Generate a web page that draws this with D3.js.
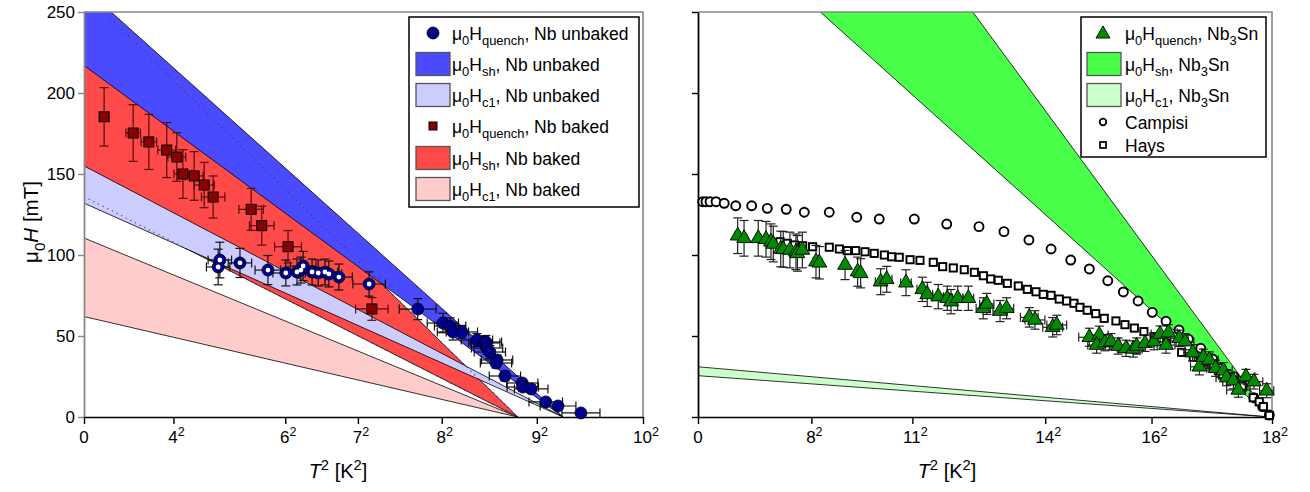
<!DOCTYPE html>
<html>
<head>
<meta charset="utf-8">
<script src="https://cdn.jsdelivr.net/npm/d3@7"></script>
<style>
  body { margin: 0; background: #fff; }
  svg { display: block; font-family: "Liberation Sans", Arial, Helvetica, sans-serif; }
</style>
</head>
<body>
<svg id="chart" width="1310" height="492"></svg>
<script>
// ---- data (T^2 in K^2, fields in mT) ----
const tickLeftT = [0, 4, 6, 7, 8, 9, 10];
const tickRightT = [0, 8, 11, 14, 16, 18];
const tickH = [0, 50, 100, 150, 200, 250];

// critical temperatures squared
const tc2NbUnbaked = 85.7;
const tc2NbBaked = 77.6;
const tc2Nb3Sn = 323;

// bands: field at T = 0, [low, high]
const hshUnbaked = [217, 265];
const hc1Unbaked = [132, 155];
const hshBaked = [136, 262];
const hc1Baked = [62, 110.5];
const hshNb3Sn = [318, 481];
const hc1Nb3Sn = [25.5, 31];

// Nb unbaked quench, low temperature set (drawn with a white centre)
const unbakedOpenT2 = [24.3, 24.0, 27.9, 32.9, 36.1, 38.1, 38.8, 39.2, 40.8, 41.9, 43.1, 43.8, 45.6, 51.0];
const unbakedOpenH = [96.9, 92.6, 95.1, 90.7, 88.9, 89.5, 90.7, 93.2, 89.5, 88.9, 89.5, 88.3, 86.4, 82.1];
const unbakedOpenT2Err = [2.1, 2.1, 2.1, 2.3, 2.3, 2.3, 2.3, 2.3, 2.3, 2.3, 2.3, 2.3, 2.4, 2.9];
const unbakedOpenHErr = [11, 11, 9, 9, 8, 8, 8, 9, 8, 8, 8, 8, 8, 7.5];

// Nb unbaked quench, high temperature set
const unbakedT2 = [59.7, 64.2, 65.5, 66.0, 67.6, 70.3, 71.6, 71.9, 72.1, 72.6, 73.9, 73.7, 75.3, 78.4, 78.5, 80.0, 82.6, 84.8, 88.9];
const unbakedH = [66.6, 58.0, 56.2, 52.5, 52.5, 47.5, 45.7, 46.3, 42.6, 40.1, 35.2, 33.3, 25.3, 21.0, 18.5, 17.3, 9.3, 6.8, 2.5];
const unbakedT2Err = [3.3, 2.8, 2.8, 2.8, 2.8, 2.8, 2.8, 2.8, 2.8, 2.8, 2.8, 2.8, 2.8, 2.8, 2.8, 3.0, 3.0, 3.2, 3.4];
const unbakedHErr = [6.5, 6, 5, 5, 4, 4, 4, 4, 4, 4, 3, 3, 3, 2.5, 2.5, 2.5, 2, 2, 2];

// Nb baked quench
const bakedT2 = [3.6, 8.8, 11.6, 14.8, 16.6, 17.7, 19.7, 21.5, 23.1, 29.9, 31.8, 36.5, 51.5];
const bakedH = [185.3, 175.3, 169.8, 164.8, 160.5, 150.0, 148.8, 143.2, 135.8, 128.2, 118.1, 105.1, 66.7];
const bakedT2Err = [0, 1.3, 1.4, 1.6, 1.6, 1.6, 1.6, 1.8, 2.1, 2.2, 2.2, 2.4, 2.9];
const bakedHErr = [18, 17.5, 17, 17, 15, 15, 15, 14, 13, 13, 12, 10, 7];

// Nb3Sn quench
const snT2 = [22.4, 26.0, 34.0, 38.4, 41.2, 42.5, 46.7, 48.1, 51.9, 55.3, 56.1, 58.9, 66.6, 68.5, 83.0, 90.1, 91.8,
  103.1, 106.5, 117.4, 126.6, 129.4, 135.6, 140.7, 142.8, 146.6, 152.6, 161.0, 163.0, 170.5, 174.2,
  187.0, 190.2, 200.2, 202.5, 220.9, 226.5, 225.0, 229.7, 233.1, 237.2, 241.6, 245.7, 247.6, 252.3, 257.4, 260.8,
  264.2, 265.5, 271.7, 274.9, 279.2, 283.0, 285.2, 288.6, 292.2, 296.5, 298.4, 302.2, 305.0, 309.3, 313.8, 321.0];
const snH = [111.9, 110.3, 110.3, 109.7, 108.2, 106.8, 103.7, 103.5, 103.1, 102.0, 101.0, 103.1, 95.9, 95.2, 93.8, 89.7, 88.7,
  83.5, 85.0, 82.9, 78.8, 75.7, 74.3, 73.3, 71.2, 73.3, 73.3, 67.1, 69.8, 65.4, 67.1,
  61.5, 59.9, 55.4, 56.8, 49.2, 50.6, 44.4, 45.9, 46.5, 43.8, 42.4, 42.0, 43.8, 45.5, 46.5, 51.2,
  44.4, 52.0, 48.6, 46.5, 39.7, 31.0, 36.9, 35.2, 30.1, 28.6, 24.3, 22.4, 16.7, 24.9, 21.8, 16.2];
const snT2Err = [1.5, 1.5, 1.5, 1.5, 1.5, 1.5, 1.5, 1.5, 1.5, 1.5, 1.5, 1.5, 1.5, 1.5, 1.5, 1.5, 1.5,
  3, 3, 3, 3, 3, 3, 3, 3, 3, 3, 4, 4, 4, 4,
  5, 5.6, 5.6, 5.6, 6, 5, 5, 5, 5, 5, 5, 5, 5, 5, 5, 5,
  5, 5, 5, 5, 5, 5, 5, 5, 5, 5, 6, 6, 6.6, 5, 5, 4];
const snHErr = [11, 11, 11, 11, 11, 11, 11, 11, 11, 11, 11, 11, 10, 10, 9, 9, 9,
  8, 8, 8, 7.5, 7.5, 7.5, 7.5, 7.5, 7.5, 7.5, 6.5, 6.5, 6.5, 6.5,
  6, 5.7, 6, 6, 5.6, 5.5, 5, 5, 5, 5, 5, 5, 5, 5, 5, 5,
  5, 5, 5, 5, 5, 5, 5, 5, 5, 5, 5, 5, 4.5, 4.5, 4.5, 4.3];

// Campisi
const campisiT2 = [2.65, 4.5, 6.8, 10.2, 14.8, 21.3, 30.3, 39.1, 49.8, 60.0, 74.1, 89.6, 102.3, 122.1, 140.4, 158.6, 172.7,
  186.8, 199.3, 210.4, 220.9, 231.3, 240.1, 248.4, 256.4, 264.2, 271.5, 276.8, 283.8, 290.5, 295.6, 302.5, 307.2,
  313.8, 318.7, 322.5];
const campisiH = [132.9, 132.9, 132.9, 132.9, 131.9, 130.4, 130.4, 128.8, 128.2, 126.4, 126.4, 123.3, 122.2, 122.2, 119.1, 117.5, 114.4,
  109.3, 103.7, 96.9, 91.4, 84.1, 77.2, 71.6, 64.6, 59.1, 53.7, 48.1, 42.4, 35.8, 30.1, 24.9, 17.7,
  11.9, 6.4, 1.2];

// Hays
const haysT2 = [46.3, 50.4, 54.4, 59.1, 64.7, 74.1, 79.8, 84.3, 89.0, 94.3, 99.5, 105.2, 109.3, 113.6, 119.7, 125.3, 132.8, 138.1,
  144.1, 150.3, 156.0, 161.1, 165.2, 169.5, 174.6, 180.8, 185.9, 190.8, 194.9, 199.3, 203.9, 208.1, 212.2, 215.6, 219.7,
  224.5, 229.3, 235.9, 241.0, 246.3, 251.7, 257.4, 264.6, 273.0, 279.6, 285.6, 290.9, 296.1, 302.2, 307.2, 313.4, 316.8,
  319.1, 322.5];
const haysH = [108.2, 107.2, 106.2, 105.7, 105.1, 104.8, 103.7, 102.7, 102.7, 102.0, 101.0, 100.0, 98.9, 98.6, 97.1, 96.7, 95.5, 92.8,
  92.0, 90.9, 89.3, 87.2, 85.2, 84.4, 82.5, 80.9, 78.8, 77.3, 75.7, 75.1, 72.8, 71.6, 70.2, 67.7, 65.9,
  63.8, 60.9, 59.3, 57.0, 54.9, 52.7, 49.6, 45.5, 39.9, 36.9, 34.1, 31.5, 25.9, 22.8, 19.1, 11.9, 9.4,
  6.4, 1.0];

// ---- colours ----
const cBlue = "#4a4aff", cLightBlue = "#ccccff", cRed = "#ff4a4a", cPink = "#ffcccc";
const cGreen = "#4aff4a", cLightGreen = "#ccffcc";
const cNavy = "#00008f", cMaroon = "#8b0000", cDarkGreen = "#008c00";

const svg = d3.select("#chart");
const FONT = 17;

const y = d3.scaleLinear().domain([0, 250]).range([417, 12]);
const xL = d3.scaleLinear().domain([0, 100]).range([84, 643]);
const xR = d3.scaleLinear().domain([0, 324]).range([698, 1272]);

// text with sub/superscripts: parts = [[string, mode]]
function rich(g, x, yy, parts, size, anchor) {
  const t = g.append("text").attr("x", x).attr("y", yy)
    .attr("font-size", size).attr("text-anchor", anchor || "start");
  let shift = 0;
  parts.forEach(([s, m]) => {
    const target = m === "sub" ? size * 0.32 : m === "sup" ? -size * 0.42 : 0;
    const sp = t.append("tspan").attr("dy", target - shift).text(s);
    shift = target;
    if (m === "sub" || m === "sup") sp.attr("font-size", size * 0.74);
    if (m === "it") sp.attr("font-style", "italic");
  });
  return t;
}

function band(g, x, h0, tc2, fill) {
  const pts = [[0, h0[1]], [tc2, 0], [0, h0[0]]];
  g.append("path")
    .attr("d", d3.line().x(d => x(d[0])).y(d => y(d[1]))(pts) + "Z")
    .attr("fill", fill).attr("stroke", "#000").attr("stroke-width", 0.8);
}

function dotted(g, x, h0, tc2) {
  h0.forEach(h => {
    g.append("line")
      .attr("x1", x(0)).attr("y1", y(h)).attr("x2", x(tc2)).attr("y2", y(0))
      .attr("stroke", "#3a3a6a").attr("stroke-width", 1.1).attr("stroke-dasharray", "1.2 4");
  });
}

function errBars(g, x, xs, ys, xe, ye, color) {
  const cap = 4.5;
  const eg = g.append("g").attr("stroke", color).attr("stroke-width", 1.2).attr("fill", "none");
  xs.forEach((t, i) => {
    const cx = x(t), cy = y(ys[i]);
    if (ye[i] > 0) {
      const a = y(ys[i] + ye[i]), b = y(ys[i] - ye[i]);
      eg.append("line").attr("x1", cx).attr("x2", cx).attr("y1", a).attr("y2", b);
      eg.append("line").attr("x1", cx - cap).attr("x2", cx + cap).attr("y1", a).attr("y2", a);
      eg.append("line").attr("x1", cx - cap).attr("x2", cx + cap).attr("y1", b).attr("y2", b);
    }
    if (xe[i] > 0) {
      const a = x(t - xe[i]), b = x(t + xe[i]);
      eg.append("line").attr("x1", a).attr("x2", b).attr("y1", cy).attr("y2", cy);
      eg.append("line").attr("x1", a).attr("x2", a).attr("y1", cy - cap).attr("y2", cy + cap);
      eg.append("line").attr("x1", b).attr("x2", b).attr("y1", cy - cap).attr("y2", cy + cap);
    }
  });
}

function clip(id, x) {
  svg.append("clipPath").attr("id", id).append("rect")
    .attr("x", x.range()[0]).attr("y", y(250))
    .attr("width", x.range()[1] - x.range()[0]).attr("height", y(0) - y(250));
}

function axes(x, ticksT, frameColor, leftColor, showY) {
  const g = svg.append("g");
  // frame: top and right
  g.append("path")
    .attr("d", `M${x.range()[0]},${y(250)}H${x.range()[1]}V${y(0)}`)
    .attr("fill", "none").attr("stroke", frameColor).attr("stroke-width", 1.6);
  // y axis
  const ya = g.append("g").attr("transform", `translate(${x.range()[0]},0)`)
    .call(d3.axisLeft(y).tickValues(tickH).tickSize(6).tickSizeOuter(0).tickFormat(""));
  ya.select(".domain").attr("stroke", leftColor).attr("stroke-width", 1.8);
  ya.selectAll(".tick line").attr("stroke", leftColor).attr("stroke-width", 1.4);
  if (showY) {
    tickH.forEach(h => {
      g.append("text").attr("x", x.range()[0] - 9).attr("y", y(h) + 6)
        .attr("text-anchor", "end").attr("font-size", FONT).text(h);
    });
  }
  // x axis
  const xa = g.append("g").attr("transform", `translate(0,${y(0)})`)
    .call(d3.axisBottom(x).tickValues(ticksT.map(t => t * t)).tickSize(7).tickSizeOuter(0).tickFormat(""));
  xa.select(".domain").attr("stroke", "#000").attr("stroke-width", 1.6);
  xa.selectAll(".tick line").attr("stroke", "#000").attr("stroke-width", 1.4);
  ticksT.forEach(t => {
    const parts = t === 0 ? [["0", ""]] : [[String(t), ""], ["2", "sup"]];
    rich(g, x(t * t) + (t === 0 ? 0 : 3), y(0) + 26, parts, FONT, "middle");
  });
  return g;
}

// ================= left panel =================
clip("clipL", xL);
const bandsL = svg.append("g").attr("clip-path", "url(#clipL)");
band(bandsL, xL, hshBaked, tc2NbBaked, cRed);
band(bandsL, xL, hshUnbaked, tc2NbUnbaked, cBlue);
band(bandsL, xL, hc1Unbaked, tc2NbUnbaked, cLightBlue);
band(bandsL, xL, hc1Baked, tc2NbBaked, cPink);
dotted(bandsL, xL, hshBaked, tc2NbBaked);

axes(xL, tickLeftT, "#888", "#888", true);

const dataL = svg.append("g");
errBars(dataL, xL, bakedT2, bakedH, bakedT2Err, bakedHErr, "#5a0a0a");
dataL.append("g").selectAll("rect").data(bakedT2).join("rect")
  .attr("x", (d) => xL(d) - 5).attr("y", (d, i) => y(bakedH[i]) - 5)
  .attr("width", 10).attr("height", 10)
  .attr("fill", cMaroon).attr("stroke", "#000").attr("stroke-width", 1);

errBars(dataL, xL, unbakedOpenT2, unbakedOpenH, unbakedOpenT2Err, unbakedOpenHErr, "#111");
errBars(dataL, xL, unbakedT2, unbakedH, unbakedT2Err, unbakedHErr, "#111");
dataL.append("g").selectAll("circle").data(unbakedOpenT2).join("circle")
  .attr("cx", d => xL(d)).attr("cy", (d, i) => y(unbakedOpenH[i])).attr("r", 6)
  .attr("fill", cNavy).attr("stroke", "#000").attr("stroke-width", 0.8);
dataL.append("g").selectAll("circle").data(unbakedOpenT2).join("circle")
  .attr("cx", d => xL(d)).attr("cy", (d, i) => y(unbakedOpenH[i])).attr("r", 2.4)
  .attr("fill", "#fff");
dataL.append("g").selectAll("circle").data(unbakedT2).join("circle")
  .attr("cx", d => xL(d)).attr("cy", (d, i) => y(unbakedH[i])).attr("r", 6)
  .attr("fill", cNavy).attr("stroke", "#000").attr("stroke-width", 0.8);

// y axis title
const yt = svg.append("g").attr("transform", "translate(38,222) rotate(-90)");
rich(yt, 0, 0, [["\u03bc", ""], ["0", "sub"], ["H", "it"], [" [mT]", ""]], 20.5, "middle");

// x axis titles
rich(svg, 338, 478, [["T", "it"], ["2", "sup"], [" [K", ""], ["2", "sup"], ["]", ""]], 20, "middle");
rich(svg, 947, 478, [["T", "it"], ["2", "sup"], [" [K", ""], ["2", "sup"], ["]", ""]], 20, "middle");

// ================= right panel =================
clip("clipR", xR);
const bandsR = svg.append("g").attr("clip-path", "url(#clipR)");
band(bandsR, xR, hshNb3Sn, tc2Nb3Sn, cGreen);
band(bandsR, xR, hc1Nb3Sn, tc2Nb3Sn, cLightGreen);

axes(xR, tickRightT, "#888", "#000", false);

const dataR = svg.append("g");
dataR.append("g").selectAll("circle").data(campisiT2).join("circle")
  .attr("cx", d => xR(d)).attr("cy", (d, i) => y(campisiH[i])).attr("r", 4.5)
  .attr("fill", "#fff").attr("stroke", "#000").attr("stroke-width", 1.9);
dataR.append("g").selectAll("rect").data(haysT2).join("rect")
  .attr("x", d => xR(d) - 3.6).attr("y", (d, i) => y(haysH[i]) - 3.6)
  .attr("width", 7.2).attr("height", 7.2)
  .attr("fill", "#fff").attr("stroke", "#000").attr("stroke-width", 1.9);
errBars(dataR, xR, snT2, snH, snT2Err, snHErr, "#222");
const tri = d3.symbol().type(d3.symbolTriangle).size(95);
dataR.append("g").selectAll("path").data(snT2).join("path")
  .attr("d", tri)
  .attr("transform", (d, i) => `translate(${xR(d)},${y(snH[i])})`)
  .attr("fill", cDarkGreen).attr("stroke", "#000").attr("stroke-width", 0.9);

// ================= legends =================
const LF = 17.5;
function legendBox(x0, y0, w, h) {
  svg.append("rect").attr("x", x0).attr("y", y0).attr("width", w).attr("height", h)
    .attr("fill", "#fff").attr("stroke", "#000").attr("stroke-width", 1.5);
}
function swatch(x0, cy, fill) {
  svg.append("rect").attr("x", x0).attr("y", cy - 11.5).attr("width", 34).attr("height", 23)
    .attr("fill", fill).attr("stroke", "#555").attr("stroke-width", 1.3);
}

// left legend
legendBox(409, 17, 230, 190);
const rowsL = [33, 64, 95, 126, 158, 189];
svg.append("circle").attr("cx", 433).attr("cy", rowsL[0]).attr("r", 6)
  .attr("fill", cNavy).attr("stroke", "#000").attr("stroke-width", 0.8);
swatch(416, rowsL[1], cBlue);
swatch(416, rowsL[2], cLightBlue);
svg.append("rect").attr("x", 429).attr("y", rowsL[3] - 4).attr("width", 8).attr("height", 8)
  .attr("fill", cMaroon).attr("stroke", "#000").attr("stroke-width", 1);
swatch(416, rowsL[4], cRed);
swatch(416, rowsL[5], cPink);
const labelsL = [
  [["\u03bc", ""], ["0", "sub"], ["H", ""], ["quench", "sub"], [", Nb unbaked", ""]],
  [["\u03bc", ""], ["0", "sub"], ["H", ""], ["sh", "sub"], [", Nb unbaked", ""]],
  [["\u03bc", ""], ["0", "sub"], ["H", ""], ["c1", "sub"], [", Nb unbaked", ""]],
  [["\u03bc", ""], ["0", "sub"], ["H", ""], ["quench", "sub"], [", Nb baked", ""]],
  [["\u03bc", ""], ["0", "sub"], ["H", ""], ["sh", "sub"], [", Nb baked", ""]],
  [["\u03bc", ""], ["0", "sub"], ["H", ""], ["c1", "sub"], [", Nb baked", ""]]
];
labelsL.forEach((p, i) => rich(svg, 452, rowsL[i] + 6.5, p, LF));

// right legend
legendBox(1081, 17, 185, 140);
const rowsR = [33, 64, 95, 122, 145];
svg.append("path").attr("d", d3.symbol().type(d3.symbolTriangle).size(85))
  .attr("transform", `translate(1103,${rowsR[0] + 1})`)
  .attr("fill", cDarkGreen).attr("stroke", "#000").attr("stroke-width", 0.9);
swatch(1087, rowsR[1], cGreen);
swatch(1087, rowsR[2], cLightGreen);
svg.append("circle").attr("cx", 1103).attr("cy", rowsR[3]).attr("r", 3.3)
  .attr("fill", "#fff").attr("stroke", "#000").attr("stroke-width", 1.8);
svg.append("rect").attr("x", 1100).attr("y", rowsR[4] - 3).attr("width", 6).attr("height", 6)
  .attr("fill", "#fff").attr("stroke", "#000").attr("stroke-width", 1.8);
const labelsR = [
  [["\u03bc", ""], ["0", "sub"], ["H", ""], ["quench", "sub"], [", Nb", ""], ["3", "sub"], ["Sn", ""]],
  [["\u03bc", ""], ["0", "sub"], ["H", ""], ["sh", "sub"], [", Nb", ""], ["3", "sub"], ["Sn", ""]],
  [["\u03bc", ""], ["0", "sub"], ["H", ""], ["c1", "sub"], [", Nb", ""], ["3", "sub"], ["Sn", ""]],
  [["Campisi", ""]],
  [["Hays", ""]]
];
labelsR.forEach((p, i) => rich(svg, 1125, rowsR[i] + 6.5, p, LF));
</script>
</body>
</html>
